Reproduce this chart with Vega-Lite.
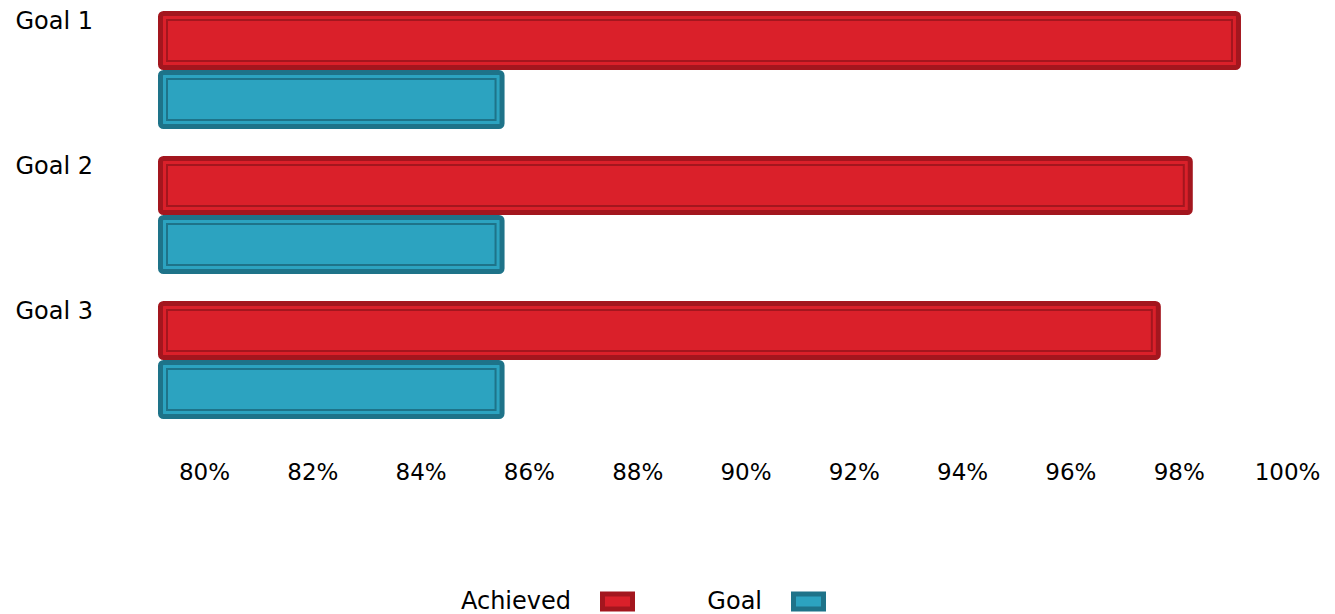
{
  "$schema": "https://vega.github.io/schema/vega-lite/v6.json",
  "width": 1129,
  "height": 430,
  "autosize": "none",
  "padding": {"left": 158, "top": 0, "right": 48, "bottom": 184},
  "background": "white",
  "data": {
    "values": [
      {"goal": "Goal 1", "series": "Achieved", "value": 99.15},
      {"goal": "Goal 1", "series": "Goal", "value": 85.55},
      {"goal": "Goal 2", "series": "Achieved", "value": 98.26},
      {"goal": "Goal 2", "series": "Goal", "value": 85.55},
      {"goal": "Goal 3", "series": "Achieved", "value": 97.67},
      {"goal": "Goal 3", "series": "Goal", "value": 85.55}
    ]
  },
  "encoding": {
    "y": {
      "field": "goal",
      "type": "nominal",
      "scale": {"paddingInner": 0.1862, "paddingOuter": 0.0759},
      "axis": {
        "title": null,
        "domain": false,
        "ticks": false,
        "labelAlign": "left",
        "labelBaseline": "top",
        "labelPadding": 143,
        "labelOffset": -60,
        "labelFont": "DejaVu Sans",
        "labelFontSize": 24,
        "labelColor": "#000000",
        "labelBound": false,
        "labelOverlap": false
      }
    },
    "yOffset": {
      "field": "series",
      "type": "nominal",
      "scale": {"paddingInner": 0, "paddingOuter": 0}
    },
    "x": {
      "field": "value",
      "type": "quantitative",
      "scale": {"domain": [79.15, 100], "nice": false, "zero": false},
      "axis": {
        "title": null,
        "domain": false,
        "ticks": false,
        "grid": false,
        "values": [80, 82, 84, 86, 88, 90, 92, 94, 96, 98, 100],
        "labelExpr": "datum.value + '%'",
        "labelFont": "DejaVu Sans",
        "labelFontSize": 23,
        "labelColor": "#000000",
        "labelPadding": 31,
        "labelFlush": false,
        "labelOverlap": false,
        "labelBound": false
      }
    },
    "x2": {"datum": 79.15},
    "fill": {
      "field": "series",
      "type": "nominal",
      "scale": {"domain": ["Achieved", "Goal"], "range": ["#DA202A", "#2CA3C0"]},
      "legend": {"title": null}
    },
    "stroke": {
      "field": "series",
      "type": "nominal",
      "scale": {"domain": ["Achieved", "Goal"], "range": ["#A3161E", "#1E7389"]},
      "legend": {"title": null}
    }
  },
  "layer": [
    {
      "mark": {
        "type": "bar",
        "size": 54,
        "xOffset": -2.5,
        "x2Offset": 2.5,
        "strokeWidth": 5,
        "cornerRadius": 3,
        "fillOpacity": 1
      }
    },
    {
      "mark": {
        "type": "bar",
        "size": 41,
        "xOffset": -9,
        "x2Offset": 9,
        "strokeWidth": 2,
        "fillOpacity": 1
      }
    }
  ],
  "config": {
    "view": {"stroke": null},
    "legend": {
      "orient": "none",
      "legendX": 442,
      "legendY": 584,
      "direction": "horizontal",
      "labelFont": "DejaVu Sans",
      "labelFontSize": 24,
      "labelColor": "#000000",
      "labelAlign": "right",
      "labelOffset": -64,
      "columnPadding": 64,
      "symbolType": "M-1,-0.5H1V0.5H-1Z",
      "symbolSize": 900,
      "symbolStrokeWidth": 5,
      "symbolOpacity": 1
    }
  }
}
